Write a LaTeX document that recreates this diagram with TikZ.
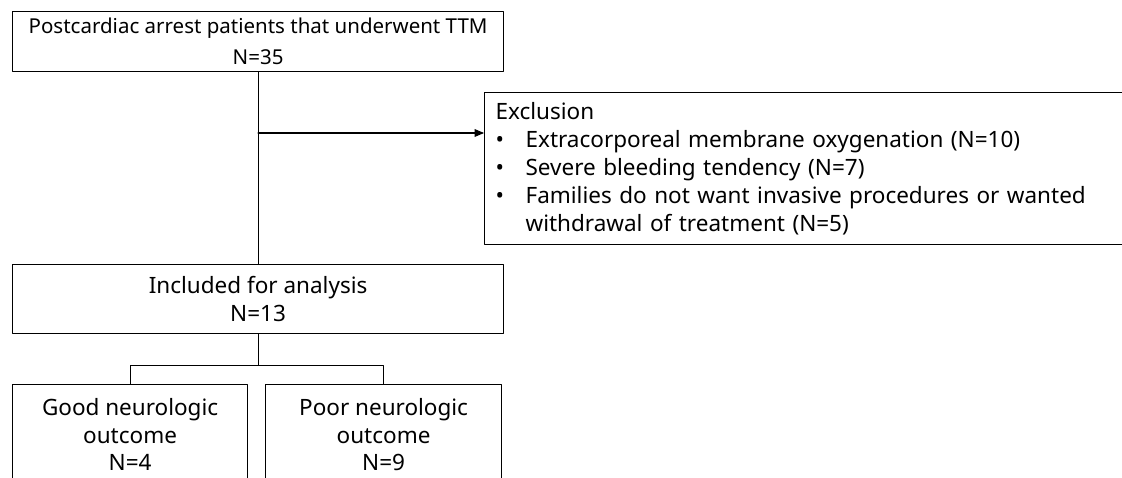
\documentclass[tikz,border=0pt]{standalone}
\usepackage{fontspec}
\setmainfont{Noto Sans}
\usetikzlibrary{arrows}
\newcommand{\exbul}{\makebox[30pt][l]{\textbullet}}

\begin{document}
\begin{tikzpicture}[line cap=round,line join=round,>=triangle 45,x=1pt,y=-1pt,
    box/.style={draw,line width=1.2pt,inner sep=0pt,align=center,anchor=north west,
      font=\fontsize{22.5}{28}\selectfont}]
      \useasboundingbox (0,0) rectangle (1122,478);
      \clip (0,0) rectangle (1122,478);

      \node[box,minimum width=491pt,minimum height=60pt,font=\fontsize{20.5}{31}\selectfont] (ttm) at (12,11)
        {Postcardiac arrest patients that underwent TTM\\N=35};
      \node[box,minimum height=152pt,inner xsep=11pt,text width=640pt,align=left] (excl) at (484,92)
        {Exclusion\\
         \exbul Extracorporeal membrane oxygenation (N=10)\\
         \exbul Severe bleeding tendency (N=7)\\
         \exbul Families do not want invasive procedures or wanted\\
         \hspace*{30pt}withdrawal of treatment (N=5)};
      \node[box,minimum width=491pt,minimum height=69pt] (incl) at (12,264)
        {Included for analysis\\N=13};
      \node[box,minimum width=235pt,minimum height=100pt,font=\fontsize{22.5}{27.5}\selectfont] (good) at (12,384)
        {Good neurologic\\outcome\\N=4};
      \node[box,minimum width=236pt,minimum height=100pt,font=\fontsize{22.5}{27.5}\selectfont] (poor) at (265,384)
        {Poor neurologic\\outcome\\N=9};

      \draw[line width=1.2pt] (ttm.south) -- (incl.north);
      \coordinate (split) at (ttm.south |- 0,133);
      \draw[line width=1.2pt,->] (split) -- (split -| excl.west);
      \draw[line width=1.2pt] (incl.south) -- ++(0,31) coordinate (fork);
      \draw[line width=1.2pt] (good.north) |- (fork) -| (poor.north);
    \end{tikzpicture}
\end{document}
